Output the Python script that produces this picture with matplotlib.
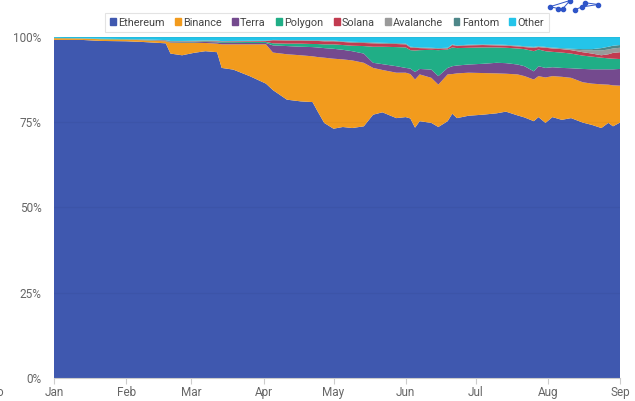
import matplotlib
matplotlib.use("Agg")
import matplotlib.pyplot as plt
from matplotlib.lines import Line2D
import numpy as np
import pandas as pd

plt.rcParams['font.family'] = ['Roboto', 'DejaVu Sans']

# day offsets from 2021-01-01
days = [0, 12, 20, 31, 38, 48, 50, 55, 60, 65, 70, 72, 77, 84, 91, 94, 100, 106, 111, 113,
        116, 120, 124, 128, 133, 137, 141, 147, 151, 153, 155, 157, 162, 165, 169, 171, 173,
        178, 184, 190, 194, 199, 202, 206, 208, 211, 214, 218, 222, 227, 231, 235, 238, 240, 243]

ethereum = [99.0, 99.0, 98.7, 98.6, 98.4, 98.0, 95.0, 94.5, 95.2, 95.7, 95.4, 90.8, 90.3, 88.4, 86.2,
            84.3, 81.5, 81.0, 80.8, 78.3, 74.7, 73.0, 73.5, 73.2, 73.7, 77.1, 77.8, 76.1, 76.4, 76.0,
            73.3, 75.2, 74.7, 73.5, 75.2, 77.4, 76.1, 76.8, 77.1, 77.5, 78.0, 76.9, 76.3, 75.2, 76.4,
            74.7, 76.4, 75.6, 76.1, 74.8, 74.1, 73.2, 74.7, 73.7, 74.8]
binance = [0.5, 0.4, 0.5, 0.5, 0.5, 0.6, 3.2, 3.6, 2.9, 2.4, 2.5, 6.9, 7.4, 9.3, 11.5,
           11.0, 13.3, 13.5, 13.4, 15.7, 19.1, 20.5, 19.8, 19.8, 18.6, 13.7, 12.4, 13.3, 13.0, 13.0,
           14.1, 13.7, 13.2, 12.4, 13.7, 11.6, 13.1, 12.6, 12.2, 11.7, 11.1, 12.0, 12.1, 12.2, 12.0,
           13.3, 12.0, 12.6, 11.8, 11.8, 12.1, 12.8, 11.2, 12.0, 10.8]
terra = [0.0, 0.0, 0.0, 0.0, 0.05, 0.1, 0.15, 0.2, 0.2, 0.3, 0.4, 0.4, 0.4, 0.4, 0.4,
         2.1, 2.4, 2.5, 2.7, 2.8, 2.8, 2.9, 2.8, 2.7, 2.7, 1.5, 1.7, 1.9, 1.4, 1.6,
         2.2, 1.6, 2.4, 2.5, 1.9, 2.3, 2.3, 2.4, 2.7, 3.1, 3.1, 2.9, 2.9, 2.4, 2.9,
         2.8, 2.6, 2.6, 2.8, 3.9, 4.2, 4.4, 4.5, 4.7, 4.9]
polygon = [0.05, 0.05, 0.1, 0.1, 0.1, 0.1, 0.15, 0.15, 0.2, 0.2, 0.2, 0.25, 0.25, 0.3, 0.3,
           0.6, 0.7, 0.9, 0.9, 1.0, 1.1, 1.3, 1.4, 1.6, 2.2, 4.7, 5.1, 5.6, 6.0, 5.4,
           6.3, 5.5, 5.8, 7.6, 5.4, 5.5, 5.1, 4.9, 4.8, 4.5, 4.5, 4.7, 5.0, 5.9, 4.9,
           4.9, 4.5, 4.5, 4.3, 3.9, 3.7, 3.4, 3.2, 3.1, 2.9]
solana = [0.0, 0.0, 0.0, 0.0, 0.05, 0.1, 0.1, 0.1, 0.1, 0.1, 0.15, 0.15, 0.2, 0.2, 0.25,
          0.9, 0.9, 0.9, 0.9, 0.9, 0.9, 0.9, 0.9, 0.9, 0.9, 1.0, 0.9, 0.9, 0.9, 0.8,
          0.8, 0.6, 0.4, 0.4, 0.3, 0.7, 0.6, 0.7, 0.7, 0.6, 0.6, 0.6, 0.6, 1.0, 0.7,
          1.0, 1.0, 1.0, 1.0, 1.0, 0.9, 0.7, 1.2, 1.7, 2.0]
avalanche = [0.0, 0.0, 0.0, 0.0, 0.0, 0.0, 0.0, 0.05, 0.05, 0.05, 0.05, 0.05, 0.05, 0.05, 0.05,
             0.05, 0.05, 0.05, 0.05, 0.05, 0.1, 0.05, 0.05, 0.05, 0.05, 0.05, 0.05, 0.05, 0.05, 0.05,
             0.05, 0.05, 0.05, 0.05, 0.05, 0.05, 0.05, 0.05, 0.05, 0.1, 0.1, 0.1, 0.1, 0.1, 0.1,
             0.1, 0.1, 0.1, 0.2, 0.6, 0.9, 1.4, 1.4, 1.3, 1.3]
fantom = [0.05, 0.05, 0.05, 0.05, 0.05, 0.05, 0.1, 0.1, 0.1, 0.1, 0.1, 0.1, 0.1, 0.1, 0.1,
          0.05, 0.1, 0.1, 0.15, 0.15, 0.15, 0.15, 0.15, 0.2, 0.2, 0.2, 0.2, 0.2, 0.2, 0.15,
          0.15, 0.15, 0.15, 0.15, 0.15, 0.15, 0.15, 0.15, 0.15, 0.15, 0.15, 0.15, 0.15, 0.15, 0.15,
          0.15, 0.15, 0.2, 0.2, 0.3, 0.4, 0.7, 0.8, 0.8, 0.8]
other = [0.4, 0.5, 0.65, 0.75, 0.85, 1.05, 1.3, 1.3, 1.25, 1.15, 1.2, 1.35, 1.3, 1.25, 1.2,
         1.0, 1.05, 1.05, 1.1, 1.1, 1.15, 1.2, 1.4, 1.55, 1.65, 1.75, 1.85, 1.95, 2.05, 3.0,
         3.1, 3.2, 3.3, 3.4, 3.3, 2.3, 2.6, 2.4, 2.3, 2.35, 2.45, 2.65, 2.85, 3.05, 2.85,
         3.05, 3.25, 3.4, 3.6, 3.7, 3.7, 3.4, 3.0, 2.7, 2.5]

series_names = ["Ethereum", "Binance", "Terra", "Polygon", "Solana", "Avalanche", "Fantom", "Other"]
colors = ["#3F58AF", "#F29B1D", "#744A8E", "#20AE86", "#C23B50", "#9A9A9A", "#4E8789", "#24C4E9"]
month_labels = ["Jan", "Feb", "Mar", "Apr", "May", "Jun", "Jul", "Aug", "Sep"]
ytick_vals = [0, 25, 50, 75, 100]

dates = pd.Timestamp("2021-01-01") + pd.to_timedelta(days, unit="D")
data = np.array([ethereum, binance, terra, polygon, solana, avalanche, fantom, other], dtype=float)
data = data / data.sum(axis=0) * 100

fig = plt.figure(figsize=(6.35, 4.01), dpi=100)
ax = fig.add_axes([54/635, 1-378/401, 566/635, (378-36.5)/401])
ax.stackplot(dates, data, colors=colors, labels=series_names, linewidth=0)

ax.set_xlim(pd.Timestamp("2021-01-01"), pd.Timestamp("2021-09-01"))
ax.set_ylim(0, 100)
month_ticks = pd.date_range("2021-01-01", "2021-09-01", freq="MS")
ax.set_xticks(month_ticks)
ax.set_xticklabels(month_labels)
ax.set_yticks(ytick_vals)
ax.set_yticklabels([f"{v}%" for v in ytick_vals])
for v in ytick_vals[1:]:
    ax.axhline(v, color="#000000", alpha=0.04, lw=0.8, zorder=5)
for s in ["top", "right", "left"]:
    ax.spines[s].set_visible(False)
ax.spines["bottom"].set_color("#cccccc")
ax.tick_params(axis="y", length=0, pad=9, labelsize=8.5, labelcolor="#666666")
ax.tick_params(axis="x", length=4, color="#cccccc", pad=1.5, labelsize=8.5, labelcolor="#666666")

handles = [plt.Rectangle((0, 0), 1, 1, color=c) for c in colors]
leg = fig.legend(handles, series_names, loc="center", bbox_to_anchor=(327/635, 1-22.5/401),
                 ncol=8, frameon=True, fancybox=False, edgecolor="#dddddd", fontsize=7.8,
                 handlelength=0.55, handleheight=0.55, handletextpad=0.2, columnspacing=0.95,
                 borderpad=0.45, labelcolor="#444444")
leg.get_frame().set_linewidth(0.8)

# partial logo at top right
pts = [(550, 6.7), (558, 8.5), (563, 8.5), (570, 0.5), (575, 9.5), (582, 7), (585, 2.7), (598, 4.5)]
segs = [(0, 3), (0, 1), (1, 2), (2, 3), (4, 5), (5, 6), (6, 7), (5, 7)]
for a, b in segs:
    fig.add_artist(Line2D([pts[a][0]/635, pts[b][0]/635], [1-pts[a][1]/401, 1-pts[b][1]/401],
                          color="#2F55C8", lw=0.7, transform=fig.transFigure))
for (px, py) in pts:
    fig.add_artist(Line2D([px/635], [1-py/401], marker="o", ms=3, color="#2F55C8",
                          transform=fig.transFigure))

fig.text(0.0, 1-393/401, "o", ha="center", va="center", fontsize=8.5, color="#666666")

fig.savefig("out.png", dpi=100)
